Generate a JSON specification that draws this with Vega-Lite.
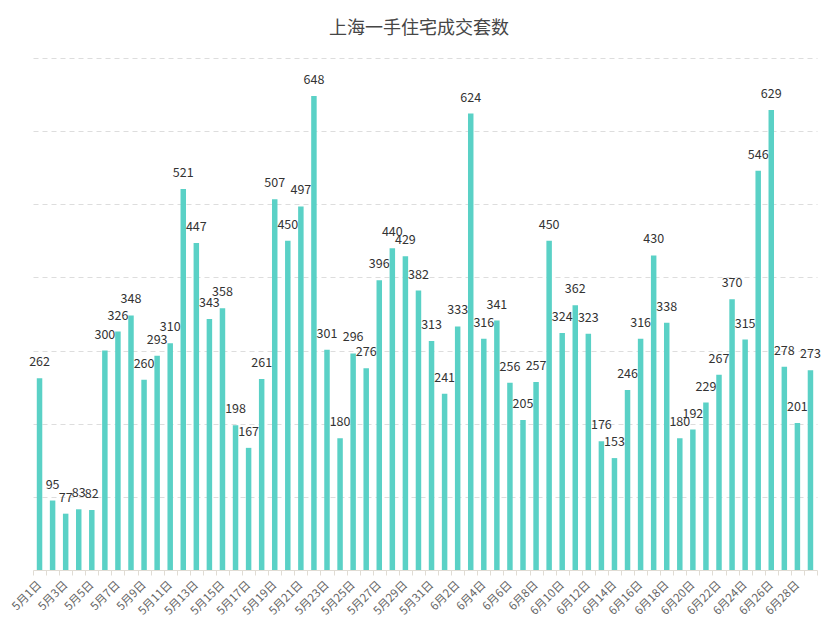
{
  "$schema": "https://vega.github.io/schema/vega-lite/v6.json",
  "autosize": {"type": "none"},
  "width": 784,
  "height": 512,
  "padding": {"left": 33, "top": 58, "right": 21, "bottom": 58},
  "background": "white",
  "title": {
    "text": "上海一手住宅成交套数",
    "font": "Noto Sans CJK SC",
    "fontSize": 18,
    "fontWeight": "normal",
    "color": "#464646",
    "anchor": "middle",
    "offset": 20,
    "dx": -6
  },
  "data": {
    "values": [
      {"date": "5月1日", "value": 262},
      {"date": "5月2日", "value": 95},
      {"date": "5月3日", "value": 77},
      {"date": "5月4日", "value": 83},
      {"date": "5月5日", "value": 82},
      {"date": "5月6日", "value": 300},
      {"date": "5月7日", "value": 326},
      {"date": "5月8日", "value": 348},
      {"date": "5月9日", "value": 260},
      {"date": "5月10日", "value": 293},
      {"date": "5月11日", "value": 310},
      {"date": "5月12日", "value": 521},
      {"date": "5月13日", "value": 447},
      {"date": "5月14日", "value": 343},
      {"date": "5月15日", "value": 358},
      {"date": "5月16日", "value": 198},
      {"date": "5月17日", "value": 167},
      {"date": "5月18日", "value": 261},
      {"date": "5月19日", "value": 507},
      {"date": "5月20日", "value": 450},
      {"date": "5月21日", "value": 497},
      {"date": "5月22日", "value": 648},
      {"date": "5月23日", "value": 301},
      {"date": "5月24日", "value": 180},
      {"date": "5月25日", "value": 296},
      {"date": "5月26日", "value": 276},
      {"date": "5月27日", "value": 396},
      {"date": "5月28日", "value": 440},
      {"date": "5月29日", "value": 429},
      {"date": "5月30日", "value": 382},
      {"date": "5月31日", "value": 313},
      {"date": "6月1日", "value": 241},
      {"date": "6月2日", "value": 333},
      {"date": "6月3日", "value": 624},
      {"date": "6月4日", "value": 316},
      {"date": "6月5日", "value": 341},
      {"date": "6月6日", "value": 256},
      {"date": "6月7日", "value": 205},
      {"date": "6月8日", "value": 257},
      {"date": "6月9日", "value": 450},
      {"date": "6月10日", "value": 324},
      {"date": "6月11日", "value": 362},
      {"date": "6月12日", "value": 323},
      {"date": "6月13日", "value": 176},
      {"date": "6月14日", "value": 153},
      {"date": "6月15日", "value": 246},
      {"date": "6月16日", "value": 316},
      {"date": "6月17日", "value": 430},
      {"date": "6月18日", "value": 338},
      {"date": "6月19日", "value": 180},
      {"date": "6月20日", "value": 192},
      {"date": "6月21日", "value": 229},
      {"date": "6月22日", "value": 267},
      {"date": "6月23日", "value": 370},
      {"date": "6月24日", "value": 315},
      {"date": "6月25日", "value": 546},
      {"date": "6月26日", "value": 629},
      {"date": "6月27日", "value": 278},
      {"date": "6月28日", "value": 201},
      {"date": "6月29日", "value": 273}
    ]
  },
  "encoding": {
    "x": {
      "field": "date",
      "type": "ordinal",
      "sort": null,
      "scale": {"paddingInner": 0, "paddingOuter": 0},
      "axis": {
        "title": null,
        "labelAngle": -45,
        "labelAlign": "right",
        "labelBaseline": "middle",
        "labelFont": "Noto Sans CJK SC",
        "labelFontSize": 11.5,
        "labelColor": "#666666",
        "labelOverlap": false,
        "labelPadding": 8,
        "labelExpr": "round(datum.index * 59) % 2 === 0 ? datum.label : ''",
        "tickBand": "extent",
        "tickColor": "#e0dcd4",
        "tickSize": 5,
        "domainColor": "#e0dcd4",
        "grid": false
      }
    },
    "y": {
      "field": "value",
      "type": "quantitative",
      "scale": {"domain": [0, 700], "nice": false},
      "axis": {
        "title": null,
        "labels": false,
        "ticks": false,
        "domain": false,
        "values": [100, 200, 300, 400, 500, 600, 700],
        "grid": true,
        "gridColor": "#dddddd",
        "gridDash": [5, 4],
        "gridWidth": 1
      }
    }
  },
  "layer": [
    {
      "mark": {"type": "bar", "color": "#5ad1c6", "width": {"band": 0.42}}
    },
    {
      "mark": {
        "type": "text",
        "baseline": "alphabetic",
        "dy": -12,
        "font": "Noto Sans CJK SC",
        "fontSize": 12.5,
        "color": "#333333"
      },
      "encoding": {"text": {"field": "value", "type": "quantitative"}}
    }
  ],
  "config": {"view": {"stroke": null}}
}
